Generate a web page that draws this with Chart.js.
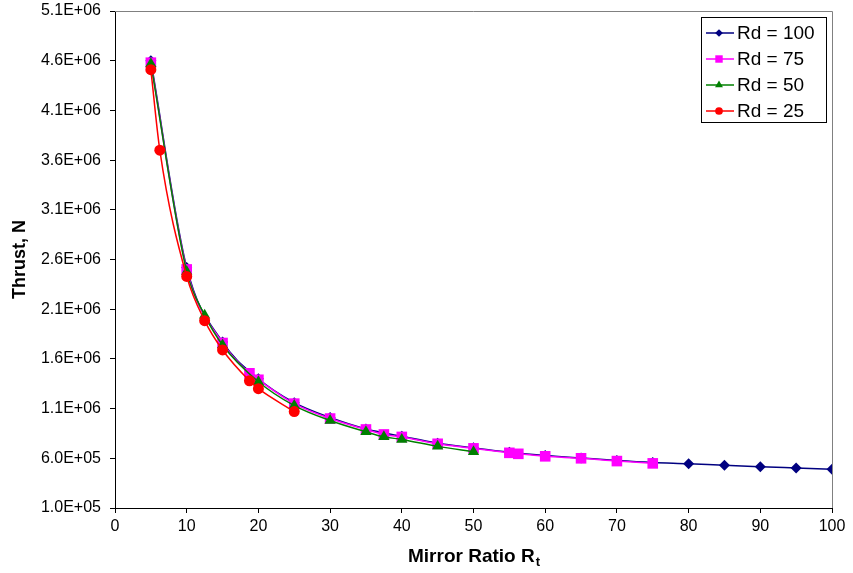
<!DOCTYPE html>
<html>
<head>
    <title>Thrust vs Mirror Ratio</title>
    <script src="https://cdn.jsdelivr.net/npm/chart.js"></script>
    <style>
        body { margin: 0; padding: 0; background: #fff; }
        #wrap { width: 853px; height: 573px; }
    </style>
</head>
<body>
    <div id="wrap"><canvas id="chart" width="853" height="573"></canvas></div>
    <script>
        const seriesLabels = ['Rd = 100', 'Rd = 75', 'Rd = 50', 'Rd = 25'];
        const seriesColors = ['#000080', '#FF00FF', '#008000', '#FF0000'];

        const rd100X = [5, 10, 15, 20, 25, 30, 35, 40, 45, 50, 55, 60, 65, 70, 75, 80, 85, 90, 95, 100];
        const rd100Y = [4.60e6, 2.52e6, 1.77e6, 1.40e6, 1.16e6, 1.01e6, 0.895e6, 0.822e6, 0.752e6, 0.705e6,
                        0.662e6, 0.628e6, 0.603e6, 0.578e6, 0.558e6, 0.545e6, 0.529e6, 0.515e6, 0.502e6, 0.489e6];

        const rd75X = [5, 10, 15, 18.75, 20, 25, 30, 35, 37.5, 40, 45, 50, 55, 56.25, 60, 65, 70, 75];
        const rd75Y = [4.58e6, 2.50e6, 1.76e6, 1.455e6, 1.39e6, 1.15e6, 1.00e6, 0.89e6, 0.84e6, 0.815e6,
                       0.746e6, 0.70e6, 0.655e6, 0.645e6, 0.62e6, 0.60e6, 0.572e6, 0.549e6];

        const rd50X = [5, 10, 12.5, 15, 20, 25, 30, 35, 37.5, 40, 45, 50];
        const rd50Y = [4.57e6, 2.48e6, 2.04e6, 1.74e6, 1.37e6, 1.13e6, 0.98e6, 0.866e6, 0.816e6, 0.79e6, 0.72e6, 0.665e6];

        const rd25X = [5, 6.25, 10, 12.5, 15, 18.75, 20, 25];
        const rd25Y = [4.51e6, 3.70e6, 2.43e6, 1.985e6, 1.69e6, 1.38e6, 1.30e6, 1.07e6];

        const yTicks = [1.0e5, 6.0e5, 1.1e6, 1.6e6, 2.1e6, 2.6e6, 3.1e6, 3.6e6, 4.1e6, 4.6e6, 5.1e6];

        const FONT = '"Liberation Sans", Arial, sans-serif';

        function toPoints(xs, ys) {
            return xs.map((x, i) => ({ x: x, y: ys[i] }));
        }

        // Excel style 1.0E+05
        function sci(v) {
            const parts = v.toExponential(1).split('e');
            const exp = parts[1];
            return parts[0] + 'E' + exp[0] + exp.slice(1).padStart(2, '0');
        }

        const markers = [
            { pointStyle: 'rectRot', radius: 5.5 },
            { pointStyle: 'rect', radius: 7.5 },
            { pointStyle: 'triangle', radius: 6.5 },
            { pointStyle: 'circle', radius: 5.5 }
        ];

        const dataSets = [
            toPoints(rd100X, rd100Y),
            toPoints(rd75X, rd75Y),
            toPoints(rd50X, rd50Y),
            toPoints(rd25X, rd25Y)
        ].map((pts, i) => ({
            label: seriesLabels[i],
            data: pts,
            borderColor: seriesColors[i],
            backgroundColor: seriesColors[i],
            borderWidth: 1.5,
            pointStyle: markers[i].pointStyle,
            pointRadius: markers[i].radius,
            pointBorderWidth: 0,
            cubicInterpolationMode: 'monotone',
            order: 3 - i
        }));

        const decorations = {
            id: 'decorations',
            afterDraw(chart) {
                const ctx = chart.ctx;
                const area = chart.chartArea;
                ctx.save();

                // gray plot border on top and right
                ctx.strokeStyle = '#808080';
                ctx.lineWidth = 1;
                ctx.beginPath();
                ctx.moveTo(area.left, area.top + 0.5);
                ctx.lineTo(area.right + 0.5, area.top + 0.5);
                ctx.lineTo(area.right + 0.5, area.bottom);
                ctx.stroke();

                // y title
                ctx.fillStyle = '#000';
                ctx.font = 'bold 18px ' + FONT;
                ctx.textAlign = 'center';
                ctx.textBaseline = 'middle';
                ctx.translate(20, (area.top + area.bottom) / 2);
                ctx.rotate(-Math.PI / 2);
                ctx.fillText('Thrust, N', 0, 0);
                ctx.setTransform(1, 0, 0, 1, 0, 0);

                // x title with subscript
                const main = 'Mirror Ratio R';
                ctx.font = 'bold 19px ' + FONT;
                const w1 = ctx.measureText(main).width;
                ctx.font = 'bold 13px ' + FONT;
                const w2 = ctx.measureText('t').width;
                const cx = (area.left + area.right) / 2;
                const startX = cx - (w1 + w2) / 2;
                ctx.textAlign = 'left';
                ctx.textBaseline = 'alphabetic';
                ctx.font = 'bold 19px ' + FONT;
                ctx.fillText(main, startX, 562);
                ctx.font = 'bold 13px ' + FONT;
                ctx.fillText('t', startX + w1 + 1, 566);

                // legend
                const lx = 701, ly = 17, lw = 125, lh = 105;
                ctx.fillStyle = '#fff';
                ctx.fillRect(lx, ly, lw, lh);
                ctx.strokeStyle = '#000';
                ctx.lineWidth = 1;
                ctx.strokeRect(lx + 0.5, ly + 0.5, lw, lh);
                ctx.font = '19px ' + FONT;
                ctx.textBaseline = 'middle';
                seriesLabels.forEach((label, i) => {
                    const y = ly + 16 + i * 26;
                    ctx.strokeStyle = seriesColors[i];
                    ctx.lineWidth = 1.5;
                    ctx.beginPath();
                    ctx.moveTo(lx + 5, y);
                    ctx.lineTo(lx + 33, y);
                    ctx.stroke();
                    ctx.fillStyle = seriesColors[i];
                    Chart.helpers.drawPoint(ctx, {
                        pointStyle: markers[i].pointStyle,
                        radius: markers[i].radius * 0.7,
                        borderWidth: 0,
                        rotation: 0
                    }, lx + 18, y);
                    ctx.fillStyle = '#000';
                    ctx.fillText(label, lx + 36, y + 1);
                });
                ctx.restore();
            }
        };

        new Chart(document.getElementById('chart'), {
            type: 'line',
            data: { datasets: dataSets },
            options: {
                responsive: false,
                animation: false,
                devicePixelRatio: 1,
                layout: { padding: { top: 11, right: 21, left: 0, bottom: 0 } },
                plugins: {
                    legend: { display: false },
                    tooltip: { enabled: false }
                },
                scales: {
                    x: {
                        type: 'linear',
                        min: 0,
                        max: 100,
                        ticks: { stepSize: 10, color: '#000', font: { family: FONT, size: 16 }, padding: 4, maxRotation: 0 },
                        grid: { drawOnChartArea: false, drawTicks: true, tickLength: 5, color: '#000' },
                        border: { display: true, color: '#000', width: 1 },
                        afterFit: s => { s.height = 65; s.paddingLeft = 0; s.paddingRight = 0; }
                    },
                    y: {
                        type: 'linear',
                        min: 1.0e5,
                        max: 5.1e6,
                        afterBuildTicks: s => { s.ticks = yTicks.map(v => ({ value: v })); },
                        ticks: { color: '#000', font: { family: FONT, size: 16 }, padding: 9, callback: v => sci(v) },
                        grid: { drawOnChartArea: false, drawTicks: true, tickLength: 5, color: '#000' },
                        border: { display: true, color: '#000', width: 1 },
                        afterFit: s => { s.width = 115; s.paddingTop = 0; s.paddingBottom = 0; }
                    }
                }
            },
            plugins: [decorations]
        });
    </script>
</body>
</html>
